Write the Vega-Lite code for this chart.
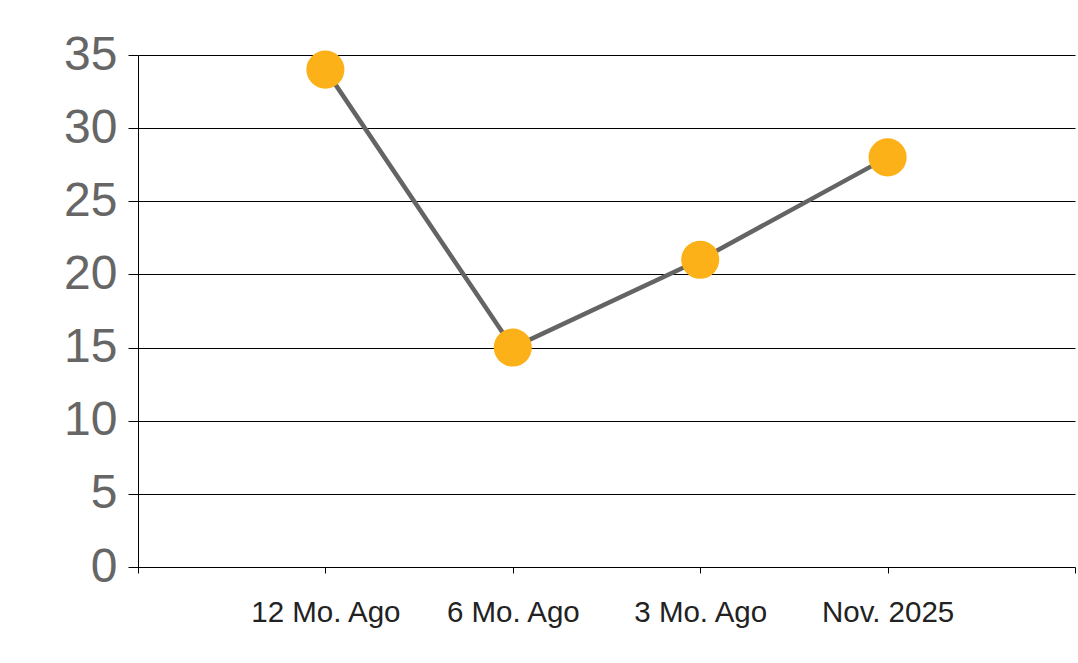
{
  "$schema": "https://vega.github.io/schema/vega-lite/v6.json",
  "width": 937,
  "height": 512,
  "autosize": {"type": "none"},
  "padding": {"left": 138, "top": 55, "right": 3, "bottom": 96},
  "background": "white",
  "config": {"view": {"stroke": null}, "font": "Liberation Sans"},
  "data": {"values": [
    {"period": "12 Mo. Ago", "value": 34},
    {"period": "6 Mo. Ago", "value": 15},
    {"period": "3 Mo. Ago", "value": 21},
    {"period": "Nov. 2025", "value": 28}
  ]},
  "encoding": {
    "x": {"field": "period", "type": "nominal",
      "scale": {"type": "point", "domain": [" ", "12 Mo. Ago", "6 Mo. Ago", "3 Mo. Ago", "Nov. 2025", "  "], "padding": 0},
      "axis": {"title": null, "labelAngle": 0, "labelFont": "Liberation Sans", "labelFontSize": 29.5, "labelColor": "#222222",
        "labelPadding": 25, "tickColor": "#000000", "tickSize": 6, "domain": false, "grid": false}},
    "y": {"field": "value", "type": "quantitative",
      "scale": {"domain": [0, 35], "nice": false},
      "axis": {"title": null, "values": [0, 5, 10, 15, 20, 25, 30, 35], "labelFont": "Liberation Sans", "labelFontSize": 48,
        "labelColor": "#666666", "labelPadding": 11, "tickSize": 10, "tickColor": "#000000",
        "domainColor": "#000000", "grid": true, "gridColor": "#000000", "gridOpacity": 1, "gridWidth": 1}}
  },
  "layer": [
    {"mark": {"type": "line", "color": "#646464", "strokeWidth": 4.5}},
    {"mark": {"type": "circle", "color": "#FBB117", "opacity": 1, "size": 1450}}
  ]
}
